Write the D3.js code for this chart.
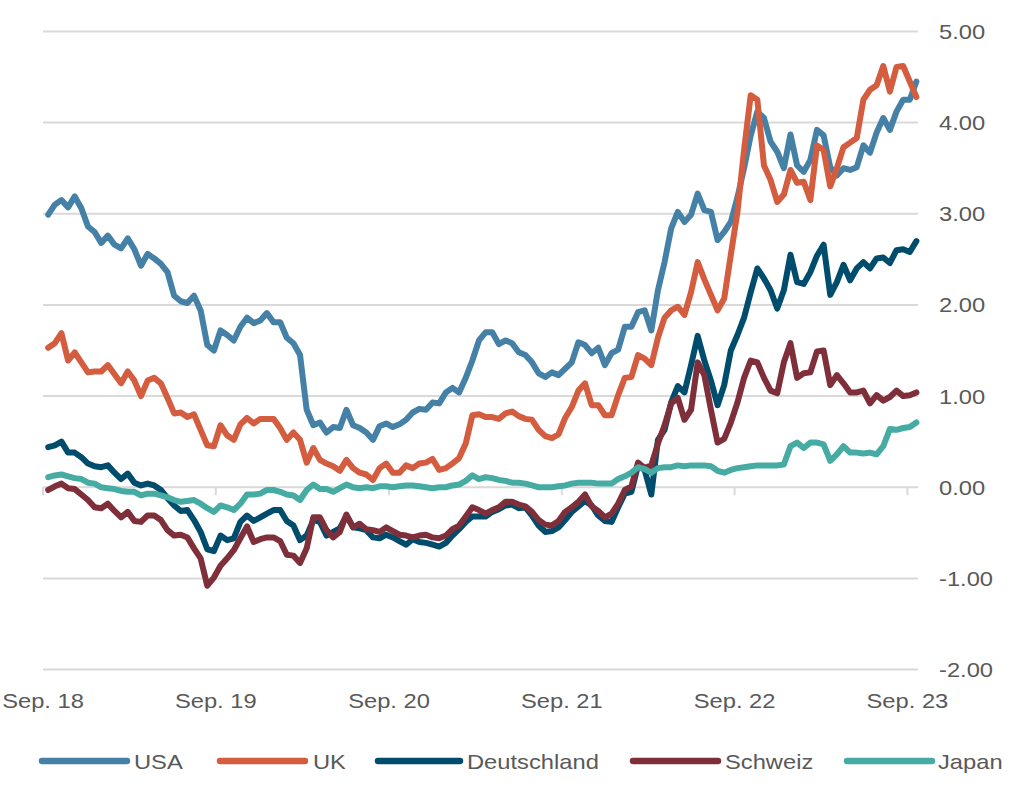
<!DOCTYPE html>
<html>
<head>
<meta charset="utf-8">
<script src="https://cdn.jsdelivr.net/npm/d3@7"></script>
<style>
  html, body { margin: 0; padding: 0; background: #ffffff; }
  svg { display: block; }
  text { font-family: "Liberation Sans", Arial, sans-serif; fill: #595959; }
</style>
</head>
<body>
<svg id="chart" width="1024" height="788"></svg>
<script>
// ---------------- DATA ----------------
const seriesNames = ["USA", "UK", "Deutschland", "Schweiz", "Japan"];
const seriesColors = ["#4581A6", "#D45D3F", "#004C6D", "#7E2F3A", "#45ABA3"];
const yTicks = [-2, -1, 0, 1, 2, 3, 4, 5];
const xTickLabels = ["Sep. 18", "Sep. 19", "Sep. 20", "Sep. 21", "Sep. 22", "Sep. 23"];
const xTickDates = ["2018-09-01", "2019-09-01", "2020-09-01", "2021-09-01", "2022-09-01", "2023-09-01"];
const firstDate = "2018-09-12";   // biweekly observations
const stepDays = 14;

const usa = [2.99,3.10,3.15,3.07,3.19,3.06,2.86,2.80,2.68,2.76,2.66,2.62,2.73,2.61,2.43,2.56,2.51,2.45,2.36,2.10,
  2.04,2.02,2.10,1.94,1.56,1.50,1.72,1.67,1.61,1.76,1.86,1.80,1.83,1.91,1.81,1.81,1.64,1.58,1.45,0.85,
  0.68,0.71,0.60,0.66,0.65,0.85,0.68,0.65,0.60,0.52,0.67,0.70,0.66,0.69,0.74,0.82,0.86,0.85,0.93,0.92,
  1.04,1.09,1.04,1.20,1.39,1.61,1.70,1.70,1.57,1.61,1.58,1.48,1.45,1.37,1.25,1.21,1.26,1.23,1.30,1.37,
  1.59,1.56,1.47,1.53,1.34,1.47,1.51,1.76,1.76,1.92,1.94,1.72,2.16,2.47,2.84,3.02,2.91,2.99,3.22,3.04,
  3.02,2.71,2.80,2.91,3.18,3.50,3.86,4.12,4.05,3.79,3.68,3.50,3.87,3.53,3.46,3.59,3.92,3.86,3.51,3.42,
  3.50,3.48,3.51,3.75,3.67,3.89,4.05,3.92,4.12,4.25,4.25,4.45];

const uk = [1.53,1.58,1.69,1.39,1.48,1.37,1.26,1.27,1.27,1.34,1.24,1.14,1.27,1.17,1.00,1.17,1.20,1.14,0.98,0.81,
  0.82,0.77,0.80,0.63,0.46,0.45,0.68,0.57,0.52,0.69,0.76,0.70,0.75,0.75,0.75,0.65,0.52,0.60,0.52,0.27,
  0.43,0.30,0.26,0.23,0.18,0.30,0.21,0.16,0.14,0.08,0.21,0.26,0.16,0.16,0.24,0.21,0.26,0.27,0.31,0.19,
  0.21,0.26,0.32,0.48,0.79,0.80,0.77,0.77,0.75,0.81,0.83,0.78,0.75,0.74,0.63,0.56,0.54,0.58,0.76,0.88,
  1.06,1.14,0.90,0.90,0.79,0.79,1.01,1.20,1.21,1.45,1.41,1.34,1.64,1.86,1.94,1.98,1.89,2.14,2.47,2.28,
  2.11,1.94,2.07,2.55,3.02,3.70,4.30,4.25,3.53,3.37,3.13,3.21,3.48,3.34,3.35,3.15,3.75,3.70,3.30,3.50,
  3.73,3.78,3.83,4.25,4.36,4.41,4.62,4.34,4.61,4.62,4.45,4.28];

const deutschland = [0.44,0.46,0.50,0.38,0.38,0.33,0.26,0.23,0.22,0.24,0.16,0.09,0.15,0.05,0.02,0.04,0.02,-0.03,-0.12,-0.20,
  -0.26,-0.25,-0.36,-0.49,-0.68,-0.70,-0.53,-0.58,-0.56,-0.38,-0.31,-0.37,-0.33,-0.29,-0.25,-0.25,-0.37,-0.42,-0.58,-0.53,
  -0.36,-0.38,-0.53,-0.49,-0.45,-0.31,-0.44,-0.45,-0.47,-0.55,-0.56,-0.52,-0.55,-0.59,-0.63,-0.57,-0.60,-0.61,-0.63,-0.65,
  -0.61,-0.53,-0.46,-0.38,-0.32,-0.32,-0.32,-0.27,-0.24,-0.20,-0.19,-0.23,-0.22,-0.31,-0.42,-0.49,-0.48,-0.44,-0.36,-0.27,
  -0.21,-0.15,-0.20,-0.31,-0.37,-0.38,-0.22,-0.07,-0.05,0.24,0.19,-0.08,0.52,0.63,0.93,1.11,1.04,1.34,1.66,1.39,
  1.17,0.90,1.12,1.50,1.67,1.86,2.14,2.40,2.29,2.16,1.96,2.16,2.55,2.25,2.23,2.36,2.54,2.66,2.11,2.25,
  2.44,2.27,2.40,2.47,2.40,2.51,2.52,2.46,2.60,2.61,2.58,2.70];

const schweiz = [-0.03,0.01,0.04,-0.01,-0.02,-0.08,-0.14,-0.22,-0.23,-0.18,-0.26,-0.33,-0.27,-0.37,-0.38,-0.31,-0.31,-0.36,-0.47,-0.53,
  -0.52,-0.55,-0.67,-0.78,-1.08,-0.99,-0.86,-0.78,-0.69,-0.56,-0.43,-0.60,-0.57,-0.55,-0.55,-0.59,-0.74,-0.75,-0.83,-0.67,
  -0.33,-0.33,-0.47,-0.55,-0.49,-0.30,-0.44,-0.40,-0.46,-0.47,-0.49,-0.44,-0.48,-0.52,-0.53,-0.55,-0.53,-0.52,-0.55,-0.56,
  -0.53,-0.46,-0.42,-0.32,-0.22,-0.25,-0.29,-0.25,-0.22,-0.16,-0.16,-0.19,-0.21,-0.27,-0.36,-0.41,-0.42,-0.37,-0.27,-0.22,
  -0.16,-0.08,-0.21,-0.26,-0.33,-0.29,-0.18,-0.03,0.01,0.27,0.21,0.24,0.48,0.68,0.92,0.98,0.74,0.85,1.37,1.23,
  0.85,0.49,0.53,0.71,0.93,1.20,1.39,1.37,1.20,1.06,1.03,1.37,1.58,1.20,1.25,1.26,1.49,1.50,1.12,1.23,
  1.14,1.04,1.04,1.06,0.92,1.01,0.95,0.99,1.06,1.00,1.01,1.04];

const japan = [0.11,0.13,0.14,0.12,0.10,0.09,0.05,0.04,0.00,-0.01,-0.02,-0.04,-0.05,-0.05,-0.09,-0.07,-0.07,-0.09,-0.11,-0.14,
  -0.16,-0.15,-0.14,-0.18,-0.23,-0.27,-0.20,-0.22,-0.25,-0.18,-0.08,-0.08,-0.07,-0.03,-0.03,-0.05,-0.08,-0.09,-0.14,-0.03,
  0.03,-0.02,-0.02,-0.05,-0.01,0.03,0.00,-0.01,0.00,-0.01,0.01,0.01,0.00,0.01,0.02,0.02,0.01,0.00,-0.01,0.00,
  0.00,0.02,0.03,0.07,0.13,0.09,0.11,0.10,0.08,0.07,0.05,0.05,0.04,0.02,0.00,0.00,0.00,0.01,0.02,0.04,
  0.05,0.05,0.05,0.04,0.04,0.04,0.09,0.12,0.16,0.22,0.20,0.16,0.21,0.22,0.22,0.24,0.23,0.24,0.24,0.24,
  0.23,0.18,0.16,0.19,0.21,0.22,0.23,0.24,0.24,0.24,0.24,0.25,0.45,0.49,0.43,0.49,0.49,0.47,0.29,0.36,
  0.45,0.38,0.38,0.37,0.38,0.36,0.45,0.64,0.63,0.65,0.66,0.71];

const seriesValues = [usa, uk, deutschland, schweiz, japan];

// ---------------- CHART ----------------
const W = 1024, H = 788;
const svg = d3.select("#chart");
svg.append("rect").attr("width", W).attr("height", H).attr("fill", "#ffffff");

const parse = d3.utcParse("%Y-%m-%d");
const start = parse(firstDate);
const n = usa.length;
const dates = d3.range(n).map(i => d3.utcDay.offset(start, i * stepDays));

const x = d3.scaleUtc()
  .domain([parse(xTickDates[0]), parse(xTickDates[xTickDates.length - 1])])
  .range([43, 907.4]);
const y = d3.scaleLinear().domain([-2, 5]).range([669.6, 31.4]);

const gridX0 = 43, gridX1 = 918;
const SX = 1.13;       // horizontal stretch of the original text
const FS = 21;
const fmt = d => d3.format(".2f")(d).replace("\u2212", "-");

// gridlines
svg.append("g").selectAll("line").data(yTicks).join("line")
  .attr("x1", gridX0).attr("x2", gridX1)
  .attr("y1", d => y(d)).attr("y2", d => y(d))
  .attr("stroke", "#d9d9d9").attr("stroke-width", 2);

// y labels (right)
svg.append("g").selectAll("text").data(yTicks).join("text")
  .attr("transform", d => `translate(939,${y(d) + 7.5}) scale(${SX},1)`)
  .attr("font-size", FS)
  .text(d => fmt(d));

// x tick marks on zero line
const xt = xTickDates.map(parse);
svg.append("g").selectAll("line").data(xt).join("line")
  .attr("x1", d => x(d)).attr("x2", d => x(d))
  .attr("y1", y(0)).attr("y2", y(0) + 8)
  .attr("stroke", "#d9d9d9").attr("stroke-width", 2);

// x labels
svg.append("g").selectAll("text").data(xt).join("text")
  .attr("transform", d => `translate(${x(d)},708) scale(${SX},1)`)
  .attr("text-anchor", "middle")
  .attr("font-size", FS)
  .text((d, i) => xTickLabels[i]);

// lines
const line = d3.line().x((d, i) => x(dates[i])).y(d => y(d)).curve(d3.curveLinear);
svg.append("g").selectAll("path").data(seriesValues).join("path")
  .attr("d", d => line(d))
  .attr("fill", "none")
  .attr("stroke", (d, i) => seriesColors[i])
  .attr("stroke-width", 6)
  .attr("stroke-linejoin", "round")
  .attr("stroke-linecap", "round");

// legend
const legendPos = [[42, 127, 134], [220, 305, 313], [378, 460, 467], [633, 718, 725], [847, 932, 938]];
const lg = svg.append("g");
seriesNames.forEach((name, i) => {
  const [a, b, t] = legendPos[i];
  lg.append("line").attr("x1", a).attr("x2", b).attr("y1", 761).attr("y2", 761)
    .attr("stroke", seriesColors[i]).attr("stroke-width", 6.5).attr("stroke-linecap", "round");
  lg.append("text").attr("transform", `translate(${t},768.5) scale(${SX},1)`)
    .attr("font-size", FS).text(name);
});
</script>
</body>
</html>
